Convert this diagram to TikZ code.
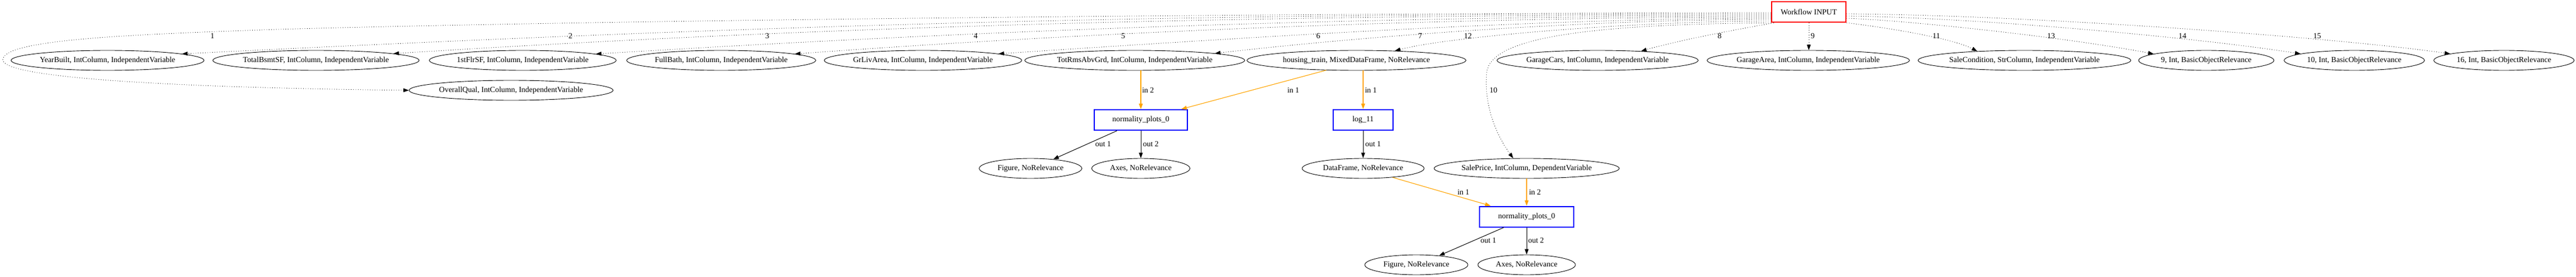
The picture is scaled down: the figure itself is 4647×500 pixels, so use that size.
\documentclass[tikz,border=0pt]{standalone}
\usepackage{fontspec}
\setmainfont{Liberation Serif}
\usetikzlibrary{shapes.geometric,arrows.meta}
\definecolor{gvorange}{HTML}{FFA500}
\definecolor{gvblue}{HTML}{0000FF}
\definecolor{gvred}{HTML}{FF0000}
\begin{document}
\begin{tikzpicture}[x=1pt,y=-1pt,
  every node/.style={font=\fontsize{14}{16}\selectfont},
  ell/.style={ellipse,draw=black,line width=0.9pt,inner sep=0pt,minimum height=36pt,minimum width=#1},
  fn/.style={rectangle,draw=gvblue,line width=2pt,inner sep=0pt,minimum height=37pt,minimum width=#1},
  wfbox/.style={rectangle,draw=gvred,line width=2.5pt,inner sep=0pt,minimum height=37pt,minimum width=#1},
  tipped/.style={-{Triangle[length=10pt,width=7pt]}},
  dotedge/.style={tipped,draw=black,line width=0.8pt,dash pattern=on 0.9pt off 3.4pt},
  inedge/.style={tipped,draw=gvorange,fill=gvorange,line width=1.1pt},
  outedge/.style={tipped,draw=black,line width=1pt},
  lbl/.style={inner sep=0pt}]
\fill[white] (0,0) rectangle (4647,500);
\useasboundingbox (0,0) rectangle (4647,500);

% nodes
\node[wfbox=134pt] (wf) at (3263,21.5) {Workflow INPUT};
\node[ell=348pt] (yb) at (194,109) {YearBuilt, IntColumn, IndependentVariable};
\node[ell=371pt] (tb) at (570,109) {TotalBsmtSF, IntColumn, IndependentVariable};
\node[ell=337pt] (ff) at (943,109) {1stFlrSF, IntColumn, IndependentVariable};
\node[ell=341pt] (fb) at (1301,109) {FullBath, IntColumn, IndependentVariable};
\node[ell=355pt] (gl) at (1665,109) {GrLivArea, IntColumn, IndependentVariable};
\node[ell=371pt] (tr) at (2047,109) {TotRmsAbvGrd, IntColumn, IndependentVariable};
\node[ell=395pt] (ht) at (2447,109) {housing\_train, MixedDataFrame, NoRelevance};
\node[ell=360pt] (gc) at (2882,109) {GarageCars, IntColumn, IndependentVariable};
\node[ell=362pt] (ga) at (3262,109) {GarageArea, IntColumn, IndependentVariable};
\node[ell=380pt] (sc) at (3652,109) {SaleCondition, StrColumn, IndependentVariable};
\node[ell=244pt] (i9) at (3980,109) {9, Int, BasicObjectRelevance};
\node[ell=253pt] (i10) at (4247,109) {10, Int, BasicObjectRelevance};
\node[ell=253pt] (i16) at (4517,109) {16, Int, BasicObjectRelevance};
\node[ell=368pt] (oq) at (922,163) {OverallQual, IntColumn, IndependentVariable};

\node[fn=168pt] (np1) at (2058,216.5) {normality\_plots\_0};
\node[fn=108pt] (lg) at (2459,216.5) {log\_11};
\node[ell=185pt] (fig1) at (1859,304) {Figure, NoRelevance};
\node[ell=177pt] (ax1) at (2058,304) {Axes, NoRelevance};
\node[ell=220pt] (df) at (2459,304) {DataFrame, NoRelevance};
\node[ell=334pt] (sp) at (2754,304) {SalePrice, IntColumn, DependentVariable};
\node[fn=170pt] (np2) at (2754,391) {normality\_plots\_0};
\node[ell=186pt] (fig2) at (2555,478) {Figure, NoRelevance};
\node[ell=176pt] (ax2) at (2754,478) {Axes, NoRelevance};

% via points
\coordinate (w1a) at (500,53);
\coordinate (w1b) at (5,108);
\coordinate (w10) at (2682,130);

% dotted input edges, left side
\draw[dotedge] (wf.west |- 0,23) .. controls (2300,24) and (1100,36) .. (w1a)
   .. controls (250,62) and (5,70) .. (w1b)
   .. controls (5,140) and (300,158) .. (oq.west);
\draw[dotedge] (wf.west |- 0,25) .. controls (2200,25) and (1519,38) .. (yb.5);
\draw[dotedge] (wf.west |- 0,27) .. controls (2400,27) and (1609,40) .. (tb.5);
\draw[dotedge] (wf.west |- 0,29) .. controls (2500,29) and (1819,52) .. (ff.5);
\draw[dotedge] (wf.west |- 0,31) .. controls (2650,31) and (2028,54) .. (fb.5);
\draw[dotedge] (wf.west |- 0,33) .. controls (2800,33) and (2318,63) .. (gl.5);
\draw[dotedge] (wf.west |- 0,35) .. controls (2900,35) and (2511,60) .. (tr.5);
\draw[dotedge] (wf.west |- 0,38) .. controls (2950,38) and (2614,66) .. (ht.14);
% dotted, below
\draw[dotedge] (wf.south west) .. controls (2850,44) and (2690,70) .. (w10)
   .. controls (2676,190) and (2700,245) .. (sp.143);
\draw[dotedge] ([xshift=5pt]wf.south west) .. controls (3140,52) and (3030,72) .. (gc.12);
\draw[dotedge] (wf.south) -- (wf.south |- ga.north);
% dotted, right side
\draw[dotedge] (wf.south east) .. controls (3390,48) and (3520,68) .. (sc.169);
\draw[dotedge] (wf.east |- 0,33) .. controls (3430,36) and (3720,66) .. (i9.173);
\draw[dotedge] (wf.east |- 0,29) .. controls (3550,31) and (3950,66) .. (i10.173);
\draw[dotedge] (wf.east |- 0,25) .. controls (3650,27) and (4200,66) .. (i16.173);

% edge labels of input edges
\node[lbl] (t1) at (383,65) {1};
\node[lbl] (t2) at (1029,65) {2};
\node[lbl] (t3) at (1384,65) {3};
\node[lbl] (t4) at (1760,65) {4};
\node[lbl] (t5) at (2026,65) {5};
\node[lbl] (t6) at (2378,65) {6};
\node[lbl] (t7) at (2562,65) {7};
\node[lbl] (t12) at (2648,65) {12};
\node[lbl] (t8) at (3102,65) {8};
\node[lbl] (t9) at (3270,65) {9};
\node[lbl] (t11) at (3493,65) {11};
\node[lbl] (t13) at (3700,65) {13};
\node[lbl] (t14) at (3937,65) {14};
\node[lbl] (t15) at (4180,65) {15};
\node[lbl] (t10) at (2694,163) {10};

% solid edges
\draw[inedge] (tr.south -| np1.north) -- (np1.north);
\draw[inedge] (ht.198) -- ([xshift=-12pt]np1.north east);
\draw[inedge] (ht.south -| lg.north) -- (lg.north);
\draw[outedge] (lg) -- (df);
\draw[outedge] ([xshift=-43pt]np1.south) -- (fig1.22);
\draw[outedge] (np1) -- (ax1);
\draw[inedge] (df.-17) -- ([xshift=21pt]np2.north west);
\draw[inedge] (sp) -- (np2);
\draw[outedge] ([xshift=-41pt]np2.south) -- (fig2.22);
\draw[outedge] (np2) -- (ax2);

% solid edge labels
\node[lbl] (e1) at (2071,163) {in 2};
\node[lbl] (e2) at (2333,163) {in 1};
\node[lbl] (e3) at (2473,163) {in 1};
\node[lbl] (e4) at (1990,260) {out 1};
\node[lbl] (e5) at (2076,260) {out 2};
\node[lbl] (e6) at (2477,260) {out 1};
\node[lbl] (e7) at (2640,347) {in 1};
\node[lbl] (e8) at (2769,347) {in 2};
\node[lbl] (e9) at (2685,434) {out 1};
\node[lbl] (e10) at (2771,434) {out 2};
\end{tikzpicture}
\end{document}
